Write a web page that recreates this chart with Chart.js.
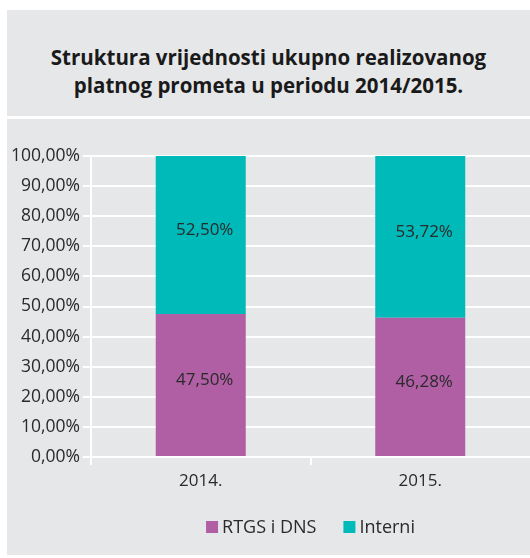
<html>
  <head>
    <title>Struktura platnog prometa</title>
    <script src="https://cdn.jsdelivr.net/npm/chart.js"></script>
    <style type="text/css">
      html, body { margin: 0; padding: 0; background: #ffffff; }
      #titleBox {
        position: absolute; left: 7px; top: 10px; width: 523px; height: 106px;
        background: #e6e7e9; font-family: "Open Sans", sans-serif; font-weight: bold;
        font-size: 20.5px; line-height: 28px; color: #1a1a1a; text-align: center;
        box-sizing: border-box; padding-top: 33px;
      }
      #chartBox {
        position: absolute; left: 7px; top: 119px; width: 523px; height: 436px;
        background: #e6e7e9;
      }
      canvas { display: block; }
    </style>
  </head>
  <body>
    <div id="titleBox">Struktura vrijednosti ukupno realizovanog<br>platnog prometa u periodu 2014/2015.</div>
    <div id="chartBox"><canvas id="barChart" width="523" height="436"></canvas></div>

    <script>
      // data
      var years = ['2014.', '2015.'];
      var rtgsValues = [47.50, 46.28];
      var interniValues = [52.50, 53.72];
      var yTicks = [0, 10, 20, 30, 40, 50, 60, 70, 80, 90, 100];

      var fontName = '"Open Sans", sans-serif';
      var textColor = '#2a2a2a';

      function pct(v) {
        return v.toFixed(2).replace('.', ',') + '%';
      }

      // writes the value in the middle of each bar segment
      var segmentLabels = {
        id: 'segmentLabels',
        afterDatasetsDraw: function(chart) {
          var ctx = chart.ctx;
          ctx.save();
          ctx.font = '17px ' + fontName;
          ctx.fillStyle = textColor;
          ctx.textAlign = 'center';
          ctx.textBaseline = 'middle';
          chart.data.datasets.forEach(function(ds, i) {
            chart.getDatasetMeta(i).data.forEach(function(bar, j) {
              var mid = (bar.y + bar.base) / 2 - 5;
              ctx.fillText(pct(ds.data[j]), bar.x + 4, mid);
            });
          });
          ctx.restore();
        }
      };

      // legend centred under the plot area, small gap between box and text
      var bottomLegend = {
        id: 'bottomLegend',
        afterDraw: function(chart) {
          var ctx = chart.ctx;
          var area = chart.chartArea;
          var y = 408;
          ctx.save();
          ctx.font = '18px ' + fontName;
          ctx.textBaseline = 'middle';
          var items = chart.data.datasets.map(function(ds) {
            return { text: ds.label, color: ds.backgroundColor, w: ctx.measureText(ds.label).width };
          });
          var total = 0;
          items.forEach(function(it, i) { total += 12 + 4 + it.w + (i < items.length - 1 ? 27 : 0); });
          var x = (area.left + area.right) / 2 - total / 2;
          items.forEach(function(it) {
            ctx.fillStyle = it.color;
            ctx.fillRect(x, y - 6, 12, 12);
            ctx.fillStyle = textColor;
            ctx.fillText(it.text, x + 16, y + 1);
            x += 12 + 4 + it.w + 27;
          });
          ctx.restore();
        }
      };

      var ctx = document.getElementById('barChart').getContext('2d');
      new Chart(ctx, {
        type: 'bar',
        data: {
          labels: years,
          datasets: [{
            label: 'RTGS i DNS',
            data: rtgsValues,
            backgroundColor: '#b05fa4',
            barPercentage: 0.41,
            categoryPercentage: 1
          }, {
            label: 'Interni',
            data: interniValues,
            backgroundColor: '#00b9b9',
            barPercentage: 0.41,
            categoryPercentage: 1
          }]
        },
        options: {
          responsive: false,
          animation: false,
          layout: { padding: { top: 37, right: 0, bottom: 59, left: 0 } },
          plugins: {
            tooltip: { enabled: false },
            legend: { display: false }
          },
          scales: {
            x: {
              stacked: true,
              grid: {
                display: true, drawOnChartArea: false, offset: true, lineWidth: 2, tickLength: 8,
                // the closing line at the right edge gets the scale context, hide it
                color: function(c) { return c.type === 'tick' ? '#ffffff' : 'rgba(0,0,0,0)'; }
              },
              border: { display: true, color: '#ffffff', width: 2 },
              ticks: { color: textColor, padding: 6, font: { family: fontName, size: 17 } },
              afterFit: function(scale) { scale.height = 39; }
            },
            y: {
              stacked: true,
              min: 0, max: 100,
              afterBuildTicks: function(scale) {
                scale.ticks = yTicks.map(function(v) { return { value: v }; });
              },
              grid: { color: '#ffffff', lineWidth: 2, tickLength: 8 },
              border: { display: true, color: '#ffffff', width: 2 },
              ticks: {
                color: textColor, padding: 3,
                font: { family: fontName, size: 17.5 },
                callback: function(v) { return pct(v); }
              },
              afterFit: function(scale) { scale.width = 84; }
            }
          }
        },
        plugins: [segmentLabels, bottomLegend]
      });
    </script>
  </body>
</html>
